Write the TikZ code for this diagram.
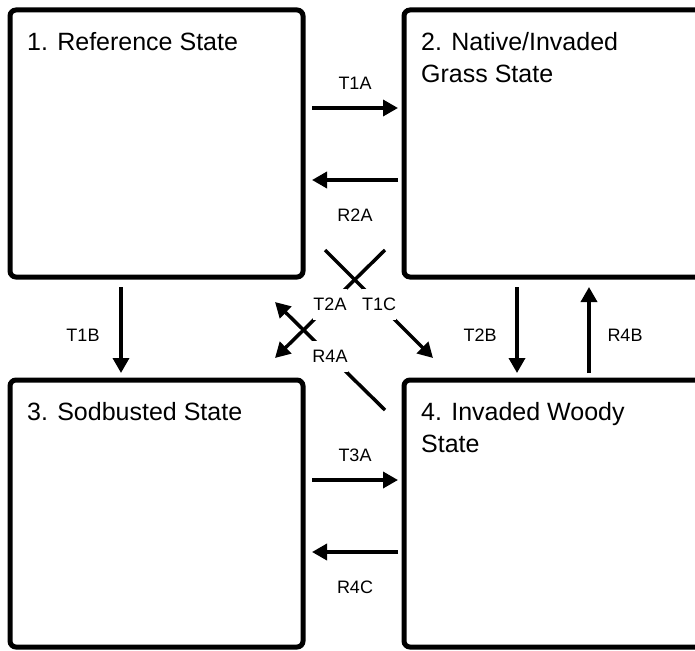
\documentclass[tikz,border=0pt]{standalone}
\usepackage{fontspec}
\setmainfont{Liberation Sans}
\usetikzlibrary{arrows.meta}

\begin{document}
\begin{tikzpicture}[
		x=1pt, y=-1pt,
		state box/.style={draw, line width=5pt, rounded corners=6pt, outer sep=0pt, inner sep=0pt, minimum width=293pt, minimum height=267pt},
		wide box/.style={state box, minimum width=300pt},
		state text/.style={anchor=north west, align=left, inner sep=0pt, font=\fontsize{25}{32}\selectfont},
		move/.style={line width=3.5pt, -{Triangle[length=15pt, width=16pt]}},
		move label/.style={inner sep=0pt, font=\fontsize{18}{21}\selectfont},
		cut label/.style={move label, fill=white, minimum size=31pt}
		]
	\useasboundingbox (0,0) rectangle (695,650);

	% State boxes
	\node[state box] (s1) at (156.5,143.5) {};
	\node[wide box]  (s2) at (554,143.5) {};
	\node[state box] (s3) at (156.5,513.5) {};
	\node[wide box]  (s4) at (554,513.5) {};

	% State names
	\node[state text] (s1 name) at ([xshift=17pt, yshift=-22pt]s1.north west) {1. Reference State};
	\node[state text] (s2 name) at ([xshift=17pt, yshift=-22pt]s2.north west) {2. Native/Invaded\\Grass State};
	\node[state text] (s3 name) at ([xshift=17pt, yshift=-22pt]s3.north west) {3. Sodbusted State};
	\node[state text] (s4 name) at ([xshift=17pt, yshift=-22pt]s4.north west) {4. Invaded Woody\\State};

	% Straight transitions
	\foreach \name/\ax/\ay/\bx/\by in {t1a/312/108/398/108, r2a/398/180/312/180,
		t3a/312/480/398/480, r4c/398/552/312/552,
		t1b/121/287/121/373, t2b/517/287/517/373, r4b/589/373/589/287}{
		\coordinate (\name a) at (\ax,\ay);
		\coordinate (\name b) at (\bx,\by);
		\draw[move] (\name a) -- (\name b);
	}

	% Labels of straight transitions
	\foreach \name/\x/\y/\label in {t1a/355/83/T1A, r2a/355/215/R2A,
		t3a/355/455/T3A, r4c/355/587/R4C,
		t1b/83/335/T1B, t2b/480/335/T2B, r4b/625/335/R4B}{
		\node[move label] (\name) at (\x,\y) {\label};
	}

	% Diagonal transitions
	\coordinate (t1c a) at (325,250);
	\coordinate (t1c b) at (433,358);
	\coordinate (t2a a) at (385,250);
	\coordinate (t2a b) at (275,358);
	\coordinate (r4a a) at (385,410);
	\coordinate (r4a b) at (275,302);
	\draw[move] (t1c a) -- node[cut label] (t1c) {T1C} (t1c b);
	\draw[move] (t2a a) -- node[cut label] (t2a) {T2A} (t2a b);
	\draw[move] (r4a a) -- node[cut label] (r4a) {R4A} (r4a b);

\end{tikzpicture}
\end{document}
